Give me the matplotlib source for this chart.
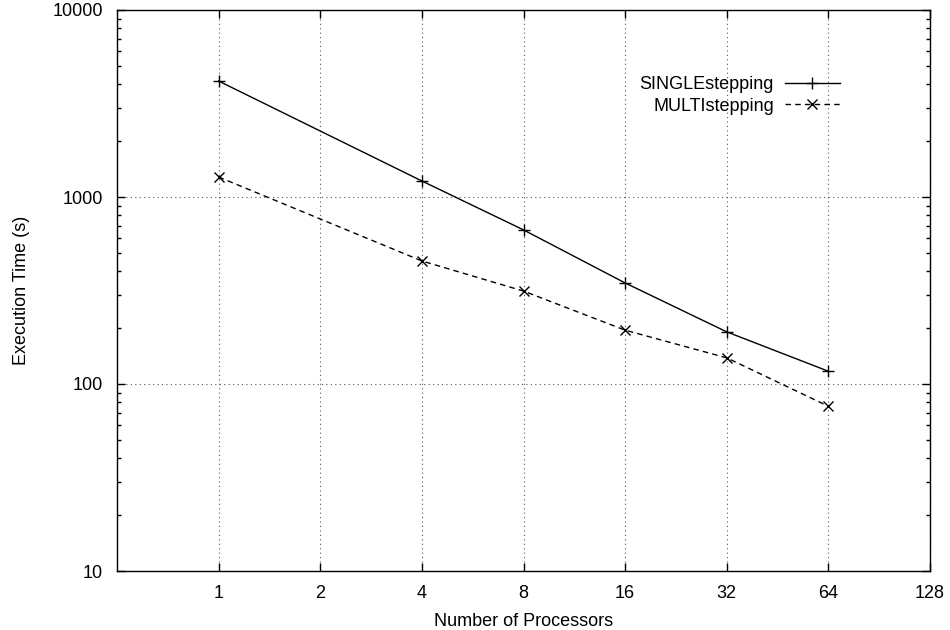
import matplotlib
matplotlib.use("Agg")
import matplotlib.pyplot as plt
from matplotlib.ticker import FixedLocator, FixedFormatter, LogLocator, NullFormatter

processors = [1, 4, 8, 16, 32, 64]
single = [4170, 1218, 667, 347, 190, 117]
multi = [1279, 455, 314, 194, 138, 76]
xticks = [1, 2, 4, 8, 16, 32, 64, 128]
yticks = [10, 100, 1000, 10000]

FS = 13
plt.rcParams['font.family'] = ['Liberation Sans', 'DejaVu Sans']
fig = plt.figure(figsize=(9.5, 6.3), dpi=100)
L, R, T, B = 117, 930, 10, 571
ax = fig.add_axes([L/950, 1 - B/630, (R-L)/950, (B-T)/630])

ax.plot(processors, single, color='black', lw=1, ls='-', marker='+', ms=9, mew=1,
        label='SINGLEstepping')
ax.plot(processors, multi, color='black', lw=1, ls=(0, (4, 3)), marker='x', ms=7, mew=1,
        label='MULTIstepping')

ax.set_xscale('log', base=2)
ax.set_yscale('log')
ax.set_xlim(0.5, 128)
ax.set_ylim(10, 10000)
ax.xaxis.set_major_locator(FixedLocator(xticks))
ax.xaxis.set_major_formatter(FixedFormatter([str(v) for v in xticks]))
ax.xaxis.set_minor_locator(FixedLocator([]))
ax.yaxis.set_major_locator(FixedLocator(yticks))
ax.yaxis.set_major_formatter(FixedFormatter([str(v) for v in yticks]))
ax.yaxis.set_minor_locator(LogLocator(base=10, subs=range(2, 10)))
ax.yaxis.set_minor_formatter(NullFormatter())

ax.tick_params(axis='both', which='major', direction='in', length=6, width=1,
               labelsize=FS, top=True, right=True)
ax.tick_params(axis='x', which='major', pad=10)
ax.tick_params(axis='y', which='major', pad=10)
ax.tick_params(axis='y', which='minor', direction='in', length=3, width=1, right=True)
ax.grid(True, which='major', ls=(0, (1, 3)), color='#555555', lw=0.8)
for s in ax.spines.values():
    s.set_linewidth(1)

ax.set_xlabel('Number of Processors', fontsize=FS, labelpad=8)
ax.set_ylabel('Execution Time (s)', fontsize=FS)
ax.yaxis.set_label_coords((30 - L) / (R - L), 0.5)

leg = ax.legend(loc='upper right', bbox_to_anchor=((849 - L) / (R - L), (B - 67) / (B - T)),
                frameon=False, fontsize=FS, markerfirst=False, handlelength=3.05,
                labelspacing=0.25, borderpad=0, handletextpad=0.6)
for t in leg.get_texts():
    t.set_ha('right')

fig.savefig('out.png', dpi=100, facecolor='white')
